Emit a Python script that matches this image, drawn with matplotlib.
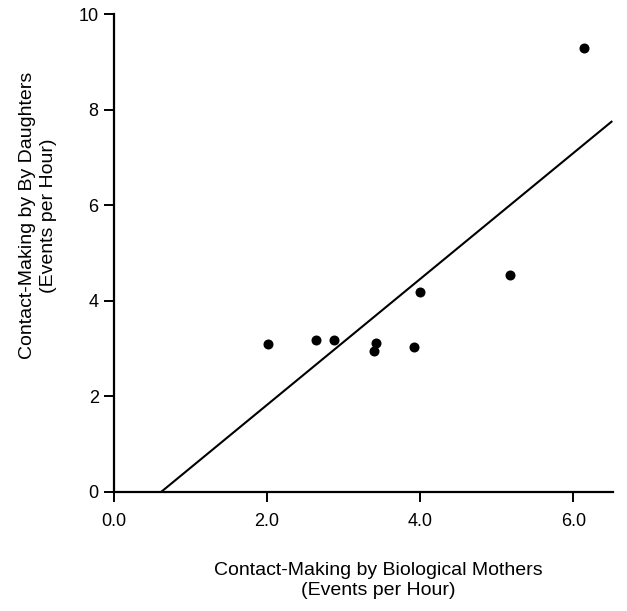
import matplotlib
matplotlib.use("Agg")
import matplotlib.pyplot as plt
import numpy as np

# Datos (eventos por hora)
mothers = [2.01, 2.64, 2.88, 3.42, 3.40, 3.92, 4.00, 5.17, 6.14]
daughters = [3.10, 3.18, 3.18, 3.11, 2.94, 3.03, 4.19, 4.53, 9.30]

# Recta de regresion (extremos)
line_x = [0.62, 6.50]
line_y = [0.0, 7.75]

x_ticks = [0.0, 2.0, 4.0, 6.0]
x_labels = ['0.0', '2.0', '4.0', '6.0']
y_ticks = [0, 2, 4, 6, 8, 10]

plt.rcParams['font.family'] = ['Liberation Sans', 'DejaVu Sans']

fig = plt.figure(figsize=(6.27, 6.11), dpi=100)
ax = fig.add_axes([0.1818, 0.1953, 0.7959, 0.7813])

ax.scatter(mothers, daughters, s=52, color='black', zorder=3, linewidths=0)
ax.plot(line_x, line_y, color='black', lw=1.5)

ax.set_xlim(0, 6.52)
ax.set_ylim(0, 10)
ax.set_xticks(x_ticks)
ax.set_xticklabels(x_labels)
ax.set_yticks(y_ticks)

for s in ['top', 'right']:
    ax.spines[s].set_visible(False)
for s in ['left', 'bottom']:
    ax.spines[s].set_linewidth(1.6)

ax.tick_params(axis='both', labelsize=13, width=1.4, length=7)
ax.tick_params(axis='x', pad=8)
ax.tick_params(axis='y', pad=4)

ax.set_xlabel('Contact-Making by Biological Mothers\n(Events per Hour)',
              fontsize=14, linespacing=1.25)
ax.xaxis.set_label_coords(0.529, -0.147)
ax.set_ylabel('Contact-Making by By Daughters\n(Events per Hour)',
              fontsize=14, linespacing=1.35)
ax.yaxis.set_label_coords(-0.114, 0.578)

fig.savefig('out.png', dpi=100)
